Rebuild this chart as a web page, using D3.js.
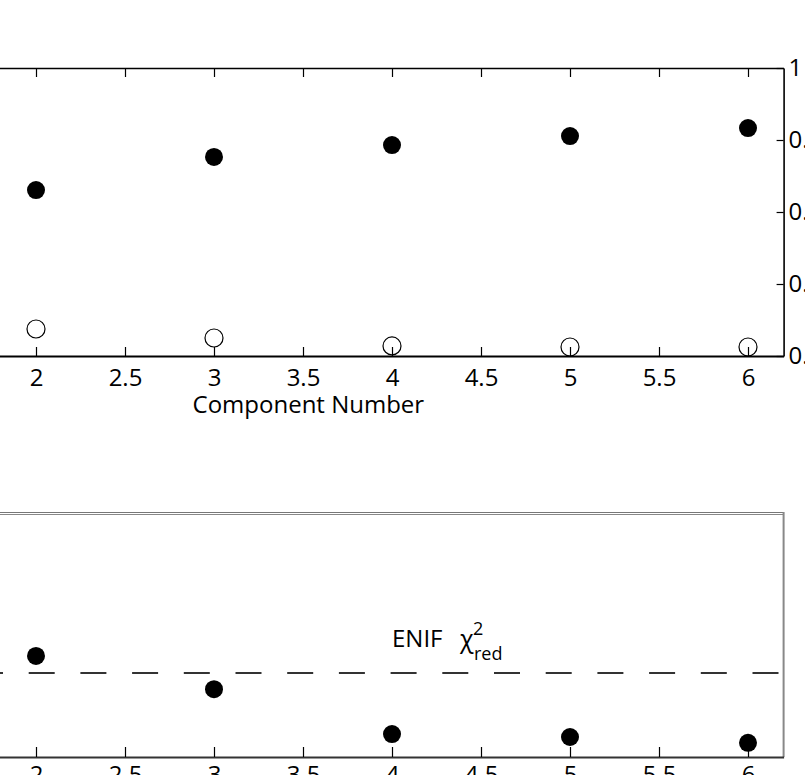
<!DOCTYPE html>
<html>
<head>
<meta charset="utf-8">
<script src="https://cdn.jsdelivr.net/npm/d3@7"></script>
<style>
  html, body { margin: 0; padding: 0; background: #fff; overflow: hidden; }
  svg { display: block; font-family: "Open Sans", "DejaVu Sans", sans-serif; }
</style>
</head>
<body>
<svg id="chart" width="805" height="775"></svg>
<script>
// Component numbers and tick values
const components = [2, 3, 4, 5, 6];
const xTicks = [1, 1.5, 2, 2.5, 3, 3.5, 4, 4.5, 5, 5.5, 6];

// Upper panel: two series against the right-hand axis
const upperFilled = [0.661, 0.753, 0.786, 0.811, 0.833];
const upperOpen = [0.275, 0.250, 0.228, 0.225, 0.225];
const upperTicks = [0.2, 0.4, 0.6, 0.8, 1];

// Lower panel: reduced chi-square per model and the ENIF reference level
const lowerChi2 = [1.207, 1.139, 1.047, 1.041, 1.029];
const enifChi2 = 1.172;

const svg = d3.select("#chart");

// shared horizontal scale
const x = d3.scaleLinear().domain([0.8, 6.2]).range([36 - 1.2 * 178, 36 + 4.2 * 178]);

const styleAxis = (g, width) => {
  g.select(".domain").attr("stroke", "#000").attr("stroke-width", width);
  g.selectAll(".tick line").attr("stroke", "#000").attr("stroke-width", 1.2);
  g.selectAll(".tick text").attr("fill", "#000").attr("font-size", 24)
    .attr("font-family", "'Open Sans', sans-serif");
};

// ---------- upper panel ----------
const yUpper = d3.scaleLinear().domain([0.2, 1]).range([356, 68]);
const upper = svg.append("g");

upper.append("g").attr("transform", "translate(0,356)")
  .call(d3.axisBottom(x).tickValues(xTicks).tickFormat(d3.format("")).tickSizeInner(-9).tickSizeOuter(0).tickPadding(13))
  .call(g => styleAxis(g, 2));

upper.append("g").attr("transform", "translate(0,68)")
  .call(d3.axisTop(x).tickValues(xTicks).tickFormat("").tickSizeInner(-9).tickSizeOuter(0))
  .call(g => styleAxis(g, 1.6));

upper.append("g").attr("transform", `translate(${x(6.2)},0)`)
  .call(d3.axisRight(yUpper).tickValues(upperTicks).tickFormat(d3.format("")).tickSizeInner(-7).tickSizeOuter(0).tickPadding(5))
  .call(g => styleAxis(g, 1.6));

upper.append("text")
  .attr("x", x(3.53)).attr("y", 413)
  .attr("text-anchor", "middle").attr("font-size", 24).attr("fill", "#000")
  .text("Component Number");

upper.selectAll("circle.filled").data(components).join("circle")
  .attr("class", "filled")
  .attr("cx", d => x(d)).attr("cy", (d, i) => yUpper(upperFilled[i]))
  .attr("r", 9).attr("fill", "#000");

upper.selectAll("circle.open").data(components).join("circle")
  .attr("class", "open")
  .attr("cx", d => x(d)).attr("cy", (d, i) => yUpper(upperOpen[i]))
  .attr("r", 9).attr("fill", "none").attr("stroke", "#000").attr("stroke-width", 1.2);

// ---------- lower panel ----------
const yLower = d3.scaleLinear().domain([1.0, 1.5]).range([757, 513]);
const lower = svg.append("g");

// frame: grey box edges
lower.append("line").attr("x1", 0).attr("x2", x(6.2)).attr("y1", 512.5).attr("y2", 512.5)
  .attr("stroke", "#777").attr("stroke-width", 1);
lower.append("line").attr("x1", 0).attr("x2", x(6.2)).attr("y1", 514.5).attr("y2", 514.5)
  .attr("stroke", "#888").attr("stroke-width", 1);
lower.append("line").attr("x1", x(6.2)).attr("x2", x(6.2)).attr("y1", 512).attr("y2", 757)
  .attr("stroke", "#888").attr("stroke-width", 2);

lower.append("g").attr("transform", "translate(0,757)")
  .call(d3.axisBottom(x).tickValues(xTicks).tickFormat(d3.format("")).tickSizeInner(-10).tickSizeOuter(0).tickPadding(9))
  .call(g => styleAxis(g, 2))
  .call(g => g.select(".domain").attr("stroke", "#333"));

// ENIF reference level
lower.append("line")
  .attr("x1", 0).attr("x2", x(6.2))
  .attr("y1", yLower(enifChi2)).attr("y2", yLower(enifChi2))
  .attr("stroke", "#333").attr("stroke-width", 2)
  .attr("stroke-dasharray", "26,25.7").attr("stroke-dashoffset", 23);

lower.append("text").attr("x", 392).attr("y", 647).attr("font-size", 24).attr("fill", "#000").text("ENIF");
lower.append("text").attr("x", 460).attr("y", 648).attr("font-size", 25).attr("fill", "#000").text("χ");
lower.append("text").attr("x", 473).attr("y", 635).attr("font-size", 18).attr("fill", "#000").text("2");
lower.append("text").attr("x", 474).attr("y", 660).attr("font-size", 18).attr("fill", "#000").text("red");

lower.selectAll("circle.pt").data(components).join("circle")
  .attr("class", "pt")
  .attr("cx", d => x(d)).attr("cy", (d, i) => yLower(lowerChi2[i]))
  .attr("r", 9).attr("fill", "#000");
</script>
</body>
</html>
